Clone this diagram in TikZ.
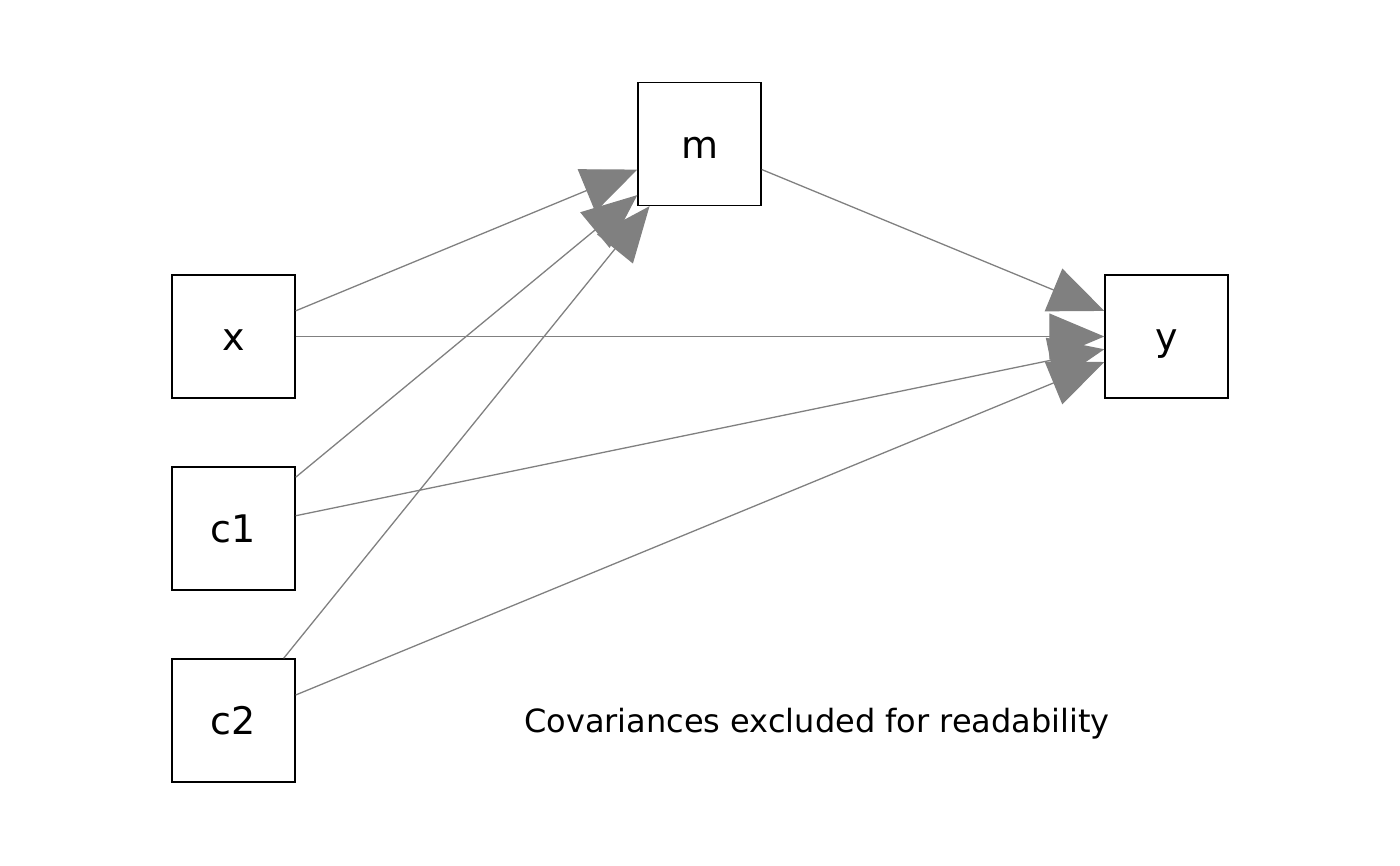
\documentclass[tikz,border=0pt]{standalone}
\usepackage{fontspec}
\setmainfont{DejaVu Sans}
\usetikzlibrary{arrows.meta}
\begin{document}
\begin{tikzpicture}[x=1pt,y=-1pt,
  var/.style={draw=black,line width=1.4pt,fill=white,minimum size=123pt,inner sep=0pt,
    text height=28pt,text depth=0pt,font=\fontsize{38}{40}\selectfont},
  path/.style={draw=gray,line width=1.3pt,-{Triangle[length=55pt,width=46pt]},fill=none},
]
\useasboundingbox (0,0) rectangle (1400,865);
\node[var] (x) at (233.5,336.5) {x};
\node[var] (c1) at (233.5,528.5) {c1};
\node[var] (c2) at (233.5,720.5) {c2};
\node[var] (m) at (699.5,144) {m};
\node[var] (y) at (1166.5,336.5) {y};
\draw[path] (x) -- (m);
\draw[path] (c1) -- (m);
\draw[path] (c2) -- (m);
\draw[path] (m) -- (y);
\draw[path] (x) -- (y);
\draw[path] (c1) -- (y);
\draw[path] (c2) -- (y);
\node[anchor=base,font=\fontsize{32}{34}\selectfont,inner sep=0pt] (cap) at (817,732.5) {Covariances excluded for readability};
\end{tikzpicture}
\end{document}
